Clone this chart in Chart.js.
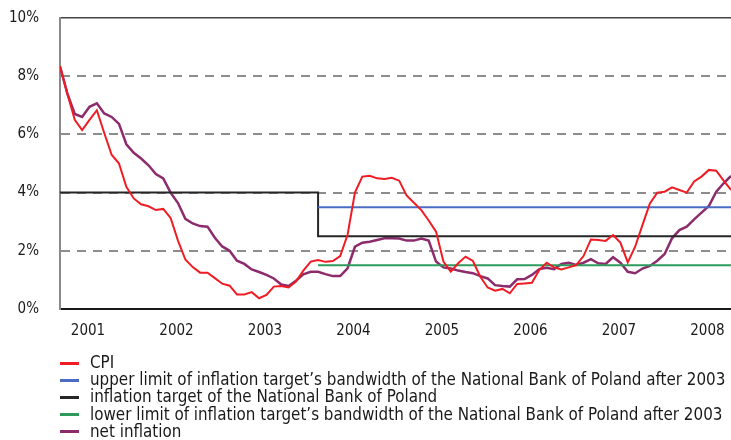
<!DOCTYPE html>
<html lang="en">
<head>
<meta charset="UTF-8">
<title>CPI and net inflation in Poland</title>
<script src="https://cdn.jsdelivr.net/npm/chart.js"></script>
<style>
  body { margin: 0; background: #fff; }
  #wrap { position: relative; width: 731px; height: 440px; }
  #legend { position: absolute; left: 60px; top: 354px; font: 16.85px "DejaVu Sans Condensed", sans-serif; color: #1a1a1a; }
  #legend div { height: 17.2px; line-height: 17.2px; white-space: nowrap; }
  #legend .sw { display: inline-block; width: 19px; height: 3px; vertical-align: middle; margin-right: 11px; }
</style>
</head>
<body>
<div id="wrap">
  <canvas id="inflationChart" width="731" height="440"></canvas>
  <div id="legend"></div>
</div>
<script>
// monthly readings, Feb 2001 .. Sep 2008 (% y/y)
const startYear = 2001, startMonth = 2, monthCount = 92;
const yearLabels = ['2001', '2002', '2003', '2004', '2005', '2006', '2007', '2008'];

const cpi = [
  8.34, 7.4, 6.5, 6.15, 6.5, 6.83, 6.05, 5.3, 5.0, 4.2, 3.8, 3.6,
  3.53, 3.4, 3.44, 3.13, 2.35, 1.7, 1.44, 1.25, 1.25, 1.06, 0.87, 0.8,
  0.5, 0.5, 0.58, 0.37, 0.48, 0.77, 0.79, 0.74, 0.94, 1.32, 1.63, 1.68,
  1.62, 1.65, 1.82, 2.55, 4.0, 4.55, 4.58, 4.49, 4.47, 4.51, 4.41, 3.9,
  3.65, 3.4, 3.04, 2.66, 1.63, 1.28, 1.57, 1.8, 1.65, 1.11, 0.74, 0.63,
  0.69, 0.54, 0.86, 0.88, 0.9, 1.34, 1.59, 1.43, 1.36, 1.43, 1.51, 1.82,
  2.39, 2.37, 2.34, 2.54, 2.28, 1.6, 2.14, 2.89, 3.63, 4.0, 4.03, 4.18,
  4.09, 4.0, 4.38, 4.55, 4.78, 4.75, 4.41, 4.09
];
const netInflation = [
  8.34, 7.4, 6.7, 6.6, 6.95, 7.07, 6.72, 6.6, 6.36, 5.66, 5.37, 5.17,
  4.94, 4.64, 4.49, 4.0, 3.64, 3.1, 2.94, 2.85, 2.83, 2.45, 2.15, 2.0,
  1.66, 1.55, 1.36, 1.27, 1.17, 1.05, 0.84, 0.79, 0.97, 1.19, 1.28, 1.28,
  1.2, 1.13, 1.13, 1.4, 2.14, 2.28, 2.31, 2.37, 2.43, 2.43, 2.42, 2.35,
  2.35, 2.42, 2.35, 1.63, 1.43, 1.39, 1.32, 1.27, 1.23, 1.13, 1.05, 0.82,
  0.79, 0.77, 1.02, 1.03, 1.17, 1.37, 1.42, 1.37, 1.55, 1.59, 1.51, 1.59,
  1.71, 1.57, 1.55, 1.78, 1.59, 1.28, 1.23, 1.39, 1.48, 1.66, 1.89, 2.43,
  2.71, 2.83, 3.08, 3.31, 3.54, 4.03, 4.32, 4.57
];

// NBP target: 4% until end of 2003, then 2.5% +/- 1 pp
const targetChange = '2004-01';
const targetBefore = 4.0, targetAfter = 2.5;
const bandUpper = 3.5, bandLower = 1.5;

const months = [];
for (let i = 0; i < monthCount; i++) {
  const m = startMonth - 1 + i;
  months.push((startYear + Math.floor(m / 12)) + '-' + String(m % 12 + 1).padStart(2, '0'));
}
const afterChange = m => m >= targetChange;
const target = months.map(m => afterChange(m) ? targetAfter : targetBefore);
const upperLimit = months.map(m => afterChange(m) ? bandUpper : null);
const lowerLimit = months.map(m => afterChange(m) ? bandLower : null);

const toPoints = arr => arr.map((v, i) => ({ x: i, y: v }));
const FONT = 'DejaVu Sans Condensed';
const labelShift = 4.8; // year label sits a bit before mid-year

const ctx = document.getElementById('inflationChart').getContext('2d');
const chart = new Chart(ctx, {
  type: 'line',
  data: {
    datasets: [
      { label: 'CPI', data: toPoints(cpi), borderColor: '#f01c24', borderWidth: 2 },
      { label: 'upper limit of inflation target\u2019s bandwidth of the National Bank of Poland after 2003',
        data: toPoints(upperLimit), borderColor: '#4a6cc4', borderWidth: 2 },
      { label: 'inflation target of the National Bank of Poland', data: toPoints(target),
        borderColor: '#262626', borderWidth: 2, stepped: 'before' },
      { label: 'lower limit of inflation target\u2019s bandwidth of the National Bank of Poland after 2003',
        data: toPoints(lowerLimit), borderColor: '#2e9a5c', borderWidth: 2 },
      { label: 'net inflation', data: toPoints(netInflation), borderColor: '#8c2c6c', borderWidth: 2.5 }
    ]
  },
  options: {
    responsive: false,
    animation: false,
    elements: { point: { radius: 0 }, line: { tension: 0, fill: false } },
    layout: { padding: { top: 18, right: 0, left: 0, bottom: 0 } },
    plugins: { legend: { display: false }, tooltip: { enabled: false } },
    scales: {
      x: {
        type: 'linear',
        min: 0,
        max: monthCount - 1,
        grid: { display: false },
        border: { display: true, color: '#1a1a1a', width: 2 },
        afterBuildTicks: scale => {
          scale.ticks = yearLabels.map((y, i) => ({ value: i * 12 - (startMonth - 1) + labelShift }));
        },
        afterFit: scale => {
          scale.height = 131;
          scale.paddingLeft = 0;
          scale.paddingRight = 0;
        },
        ticks: {
          autoSkip: false,
          maxRotation: 0,
          padding: 5,
          color: '#1a1a1a',
          font: { family: FONT, size: 15 },
          callback: (v, i) => yearLabels[i]
        }
      },
      y: {
        min: 0,
        max: 10,
        afterFit: scale => {
          scale.width = 60;
          scale.paddingTop = 0;
          scale.paddingBottom = 0;
        },
        ticks: {
          stepSize: 2,
          padding: 21,
          color: '#1a1a1a',
          font: { family: FONT, size: 15 },
          callback: v => v + '%'
        },
        grid: {
          drawTicks: false,
          color: c => c.tick.value === 0 ? 'rgba(0,0,0,0)' : (c.tick.value === 10 ? '#444' : '#8c8c8c'),
          lineWidth: c => c.tick.value === 10 ? 1.5 : 2
        },
        border: {
          display: true,
          color: '#8a8a8a',
          width: 2,
          dash: c => (c.tick && c.tick.value > 0 && c.tick.value < 10) ? [9, 7] : []
        }
      }
    }
  }
});

// legend built from the chart's datasets
const legendEl = document.getElementById('legend');
chart.data.datasets.forEach(ds => {
  const row = document.createElement('div');
  const sw = document.createElement('span');
  sw.className = 'sw';
  sw.style.background = ds.borderColor;
  row.appendChild(sw);
  row.appendChild(document.createTextNode(ds.label));
  legendEl.appendChild(row);
});
</script>
</body>
</html>
